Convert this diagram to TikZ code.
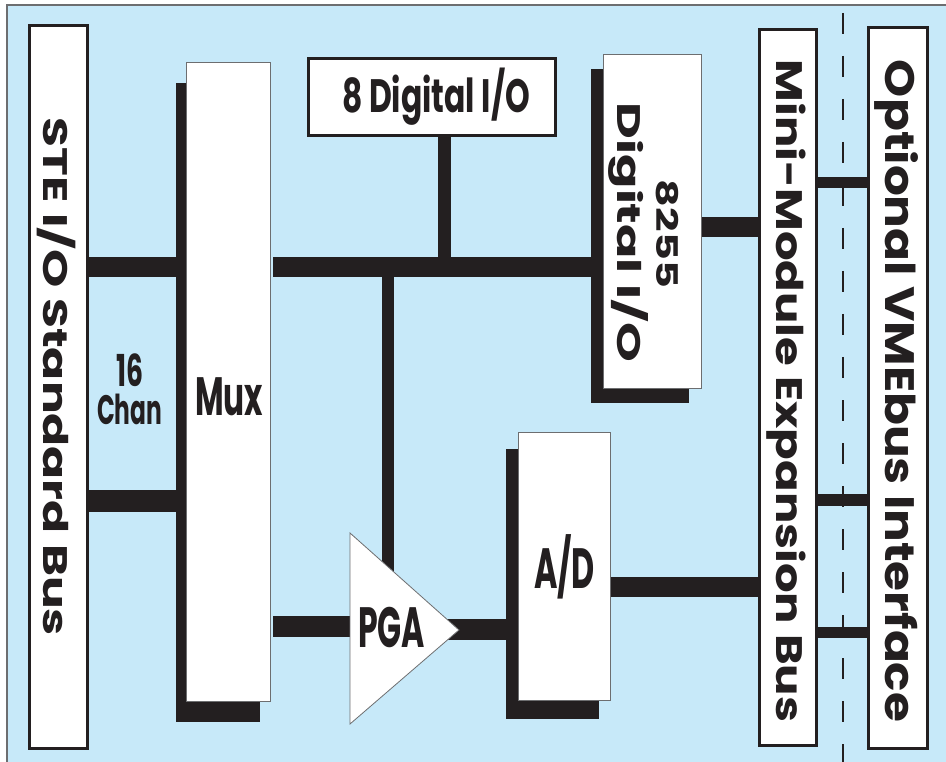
\documentclass[tikz,border=0pt]{standalone}
\usepackage{fontspec}
\setmainfont{Poppins}
\usepackage{graphicx}
\definecolor{bgblue}{HTML}{C7E9F9}
\definecolor{ink}{HTML}{231F20}
\definecolor{rim}{HTML}{6D6E70}
\newcommand{\fitbox}[3]{\resizebox{#1pt}{#2pt}{\bfseries\smash{#3}\rule{0pt}{\fontcharht\font`H}}}
\pgfdeclarelayer{back}
\pgfdeclarelayer{wires}
\pgfsetlayers{back,wires,main}
\begin{document}
\begin{tikzpicture}[x=1pt,y=-1pt,
  thickbox/.style={draw=ink, line width=3pt, fill=white, rectangle, inner sep=0pt, outer sep=0pt, anchor=north west},
  thinbox/.style={draw=rim, line width=0.8pt, fill=white, rectangle, inner sep=0pt, outer sep=0pt, anchor=north west},
  shadowbox/.style={fill=ink, draw=none, rectangle, inner sep=0pt, outer sep=0pt, anchor=north west},
  wire/.style={draw=ink, line cap=butt},
  lbl/.style={inner sep=0pt, outer sep=0pt, text=ink, anchor=base west},
  sep/.style={draw=ink, line width=1.6pt, dash pattern=on 21pt off 22pt}]
\useasboundingbox (0,0) rectangle (946,762);
\begin{pgfonlayer}{back}
  \fill[white] (0,0) rectangle (946,762);
  \begin{scope}
    \clip (0,0) rectangle (946,762);
    \draw[draw=rim, line width=1.2pt, fill=bgblue] (7,5) rectangle (960,780);
  \end{scope}
\end{pgfonlayer}

% shadows
\node[shadowbox, minimum width=84pt, minimum height=639pt] (muxsh) at (176,83) {};
\node[shadowbox, minimum width=98pt, minimum height=334pt] (dsh) at (591,69) {};
\node[shadowbox, minimum width=93pt, minimum height=270pt] (adsh) at (506,449) {};

% boxes
\node[thickbox, minimum width=58pt, minimum height=723pt] (ste) at (29.5,25.5) {};
\node[thinbox, minimum width=84pt, minimum height=639pt] (mux) at (186,62) {};
\node[thickbox, minimum width=247pt, minimum height=77pt] (dio) at (308.5,58.5) {};
\node[thinbox, minimum width=98pt, minimum height=334pt] (d8255) at (603,54) {};
\node[thinbox, minimum width=92pt, minimum height=268pt] (ad) at (518,432) {};
\node[thickbox, minimum width=57pt, minimum height=716pt] (mini) at (759.5,29.5) {};
\node[thickbox, minimum width=59pt, minimum height=721pt] (opt) at (868.5,27.5) {};

% amplifier
\coordinate (pgaA) at (350,533);
\coordinate (pgaB) at (350,724);
\coordinate (pgatip) at (459,630);
\coordinate (pga) at (385,629);
\draw[draw=rim, line width=0.8pt, fill=white] (pgaA) -- (pgatip) -- (pgaB) -- cycle;

% helper rows / columns
\coordinate (r1) at (0,267);
\coordinate (r2) at (0,501);
\coordinate (r3) at (0,227);
\coordinate (r4) at (0,182.5);
\coordinate (r5) at (0,499.5);
\coordinate (r6) at (0,632);
\coordinate (r7) at (0,626.5);
\coordinate (r8) at (0,629.5);
\coordinate (r9) at (0,587);
\coordinate (c1) at (444.5,0);
\coordinate (c2) at (388,0);
\coordinate (muxgap) at (273,0);

\begin{pgfonlayer}{wires}
  \draw[wire, line width=20pt] (ste.center |- r1) -- (muxsh.center |- r1);
  \draw[wire, line width=22pt] (ste.center |- r2) -- (muxsh.center |- r2);
  \draw[wire, line width=20pt] (muxgap |- r1) -- (dsh.center |- r1);
  \draw[wire, line width=13pt] (c1 |- dio.center) -- (c1 |- r1);
  \draw[wire, line width=12pt] (c2 |- r1) -- (c2 |- pga);
  \draw[wire, line width=20pt] (d8255.center |- r3) -- (mini.center |- r3);
  \draw[wire, line width=11pt] (mini.center |- r4) -- (opt.center |- r4);
  \draw[wire, line width=12pt] (mini.center |- r5) -- (opt.center |- r5);
  \draw[wire, line width=11pt] (mini.center |- r6) -- (opt.center |- r6);
  \draw[wire, line width=21pt] (muxgap |- r7) -- (pga |- r7);
  \draw[wire, line width=21pt] (pga |- r8) -- (adsh.center |- r8);
  \draw[wire, line width=20pt] (ad.center |- r9) -- (mini.center |- r9);
  \coordinate (dtop) at (843,13);
  \coordinate (dbot) at (843,762);
  \draw[sep] (dtop) -- (dbot);
\end{pgfonlayer}

% labels
\node[lbl, rotate=-90] (stetxt) at (43,118) {\fitbox{518}{24}{STE I/O Standard Bus}};
\node[lbl, rotate=-90] (minitxt) at (776,60) {\fitbox{662}{26}{Mini-Module Expansion Bus}};
\node[lbl, rotate=-90] (opttxt) at (885,60) {\fitbox{662}{29}{Optional VMEbus Interface}};
\node[lbl, rotate=-90] (t8255) at (656,180) {\fitbox{108}{21}{8255}};
\node[lbl, rotate=-90] (tdig) at (617,103) {\fitbox{259}{23}{Digital I/O}};
\node[lbl] (diotxt) at (342,113) {\fitbox{188}{33}{8 Digital I/O}};
\node[lbl] (muxtxt) at (195,415) {\fitbox{68}{38}{Mux}};
\node[lbl] (t16) at (116,386) {\fitbox{27}{31}{16}};
\node[lbl] (tchan) at (97,424) {\fitbox{65}{29}{Chan}};
\node[lbl] (pgatxt) at (358,647) {\fitbox{67}{40}{PGA}};
\node[lbl] (adtxt) at (534,588) {\fitbox{61}{40}{A/D}};
\end{tikzpicture}
\end{document}
